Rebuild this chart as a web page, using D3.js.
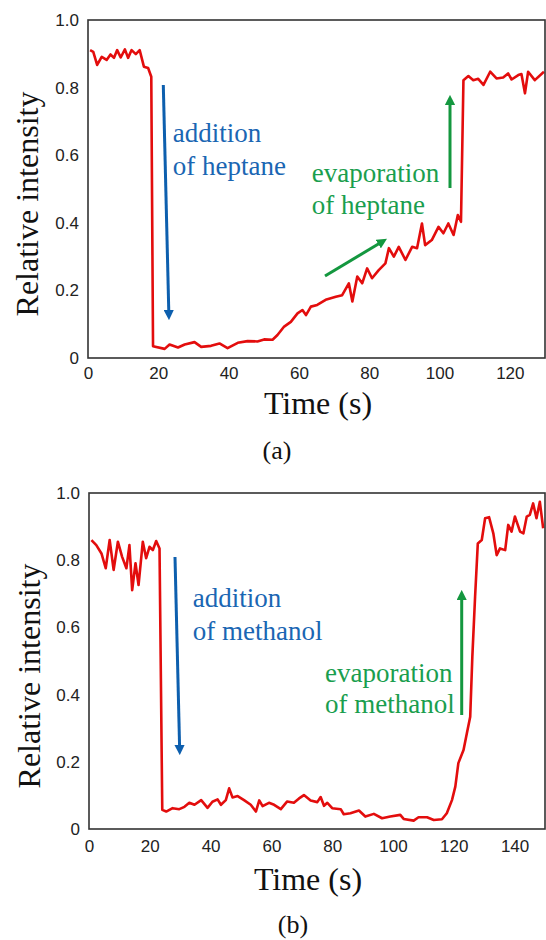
<!DOCTYPE html>
<html>
<head>
<meta charset="utf-8">
<script src="https://cdn.jsdelivr.net/npm/d3@7"></script>
<style>
  body { margin: 0; background: #fff; }
  svg { display: block; }
</style>
</head>
<body>
<div id="chart"></div>
<script>
// (a) heptane
const timeA = [0.6, 1.5, 2.6, 3.9, 5.3, 6.4, 7.4, 8.3, 9.3, 10.5, 11.4, 12.4, 13.6, 14.7, 15.9, 17.1, 18, 18.5,
  21.8, 23.2, 25.6, 27.5, 30.3, 32.2, 35, 37.4, 39.7, 42.6, 45.4, 48.2, 50.1, 52.5, 53.9, 55.8, 57.7, 59.6,
  61, 62, 63.4, 65.2, 67.6, 70.5, 72.3, 74.2, 75.2, 76.6, 78, 79.4, 80.8, 82.7, 84.6, 85.6, 87, 88.4, 90.3,
  92.2, 93.6, 95, 95.9, 97.8, 99.7, 101.1, 102.5, 104, 105.2, 106.1, 106.8, 108.2, 109.6, 111, 112.5, 114.4,
  116.2, 118.1, 119.5, 120.5, 122.4, 123.3, 124.3, 125.2, 127.1, 129.7];
const valueA = [0.911, 0.906, 0.867, 0.891, 0.882, 0.898, 0.888, 0.911, 0.889, 0.913, 0.888, 0.911, 0.899, 0.911, 0.862, 0.858, 0.832, 0.035,
  0.027, 0.04, 0.031, 0.04, 0.047, 0.033, 0.036, 0.043, 0.029, 0.045, 0.05, 0.049, 0.055, 0.054, 0.068, 0.093, 0.107, 0.132,
  0.142, 0.127, 0.152, 0.157, 0.172, 0.181, 0.186, 0.221, 0.167, 0.241, 0.221, 0.265, 0.236, 0.26, 0.28, 0.325, 0.3, 0.329, 0.29,
  0.329, 0.325, 0.398, 0.334, 0.349, 0.388, 0.369, 0.398, 0.364, 0.423, 0.403, 0.822, 0.834, 0.822, 0.826, 0.808, 0.847,
  0.827, 0.83, 0.842, 0.824, 0.837, 0.84, 0.783, 0.847, 0.822, 0.847];

// (b) methanol
const timeB = [0.8, 2.4, 4.1, 5.5, 6.8, 8.1, 9.5, 10.9, 12.3, 13.3, 14.2, 15.3, 16.3, 17.7, 18.8, 19.9, 21, 22.1, 23.2, 24.1,
  25.4, 27.5, 29.7, 31.4, 33, 34.7, 36.9, 39, 40.6, 42.3, 43.4, 45, 46.1, 47.2, 48.9, 51, 53.2, 54.9, 56, 57.1, 59.2,
  60.9, 63.1, 65.2, 67.4, 69.1, 70.7, 72.9, 75.1, 76.2, 77.3, 78.4, 80, 82.8, 83.8, 86, 88.8, 90.9, 93.7, 96.4, 99.1,
  102.4, 103.5, 106.8, 108.4, 111.2, 113.4, 116.1, 117.7, 119.4, 120.5, 121.5, 123.2, 124.3, 125.4, 126.1, 127, 127.9,
  129.2, 130.3, 131.6, 133, 134.1, 135.2, 136.9, 137.9, 139, 140.1, 141.8, 142.9, 144, 145, 146.1, 147.2, 148.3, 149.4];
const valueB = [0.86, 0.845, 0.82, 0.776, 0.86, 0.771, 0.855, 0.81, 0.776, 0.845, 0.711, 0.791, 0.726, 0.855, 0.806, 0.84, 0.83, 0.857, 0.835, 0.057,
  0.052, 0.062, 0.059, 0.066, 0.078, 0.072, 0.086, 0.063, 0.081, 0.088, 0.072, 0.086, 0.121, 0.094, 0.098, 0.086, 0.072, 0.052, 0.085, 0.068, 0.078,
  0.072, 0.059, 0.082, 0.078, 0.091, 0.101, 0.085, 0.08, 0.095, 0.069, 0.078, 0.062, 0.059, 0.044, 0.047, 0.055, 0.037, 0.045, 0.032, 0.037,
  0.042, 0.03, 0.025, 0.035, 0.035, 0.027, 0.029, 0.047, 0.086, 0.126, 0.196, 0.235, 0.285, 0.334, 0.513, 0.691, 0.85,
  0.86, 0.925, 0.928, 0.88, 0.815, 0.835, 0.83, 0.905, 0.885, 0.93, 0.885, 0.88, 0.93, 0.935, 0.969, 0.925, 0.974, 0.895];

const yTicks = [0, 0.2, 0.4, 0.6, 0.8, 1.0];
const xTicksA = [0, 20, 40, 60, 80, 100, 120];
const xTicksB = [0, 20, 40, 60, 80, 100, 120, 140];

const W = 546, H = 940;
const svg = d3.select("#chart").append("svg")
  .attr("width", W)
  .attr("height", H);

const serif = "'Liberation Serif', 'Times New Roman', serif";
const sans = "'Liberation Sans', Arial, sans-serif";
const blue = "#1a66b3", blueArrow = "#0d5fae";
const green = "#1a9e4e", greenArrow = "#14973f";

const defs = svg.append("defs");
[["head-blue", blueArrow], ["head-green", greenArrow]].forEach(([id, c]) => {
  defs.append("marker")
    .attr("id", id)
    .attr("viewBox", "0 0 10 10")
    .attr("refX", 2).attr("refY", 5)
    .attr("markerWidth", 3.4).attr("markerHeight", 3.4)
    .attr("orient", "auto")
    .append("path")
    .attr("d", "M0,0 L10,5 L0,10 Z")
    .attr("fill", c);
});

const drawPanel = (cfg) => {
  const x = d3.scaleLinear().domain([0, cfg.xMax]).range([cfg.left, cfg.right]);
  const y = d3.scaleLinear().domain([0, 1]).range([cfg.bottom, cfg.top]);
  const g = svg.append("g");

  g.append("g")
    .attr("transform", `translate(${cfg.left},0)`)
    .call(d3.axisLeft(y).tickValues(yTicks).tickSize(0).tickPadding(9)
      .tickFormat(d => d === 0 ? "0" : d3.format(".1f")(d)))
    .call(a => a.select(".domain").remove())
    .selectAll("text")
    .style("font-family", sans).style("font-size", "17px").attr("fill", "#222");

  g.append("g")
    .attr("transform", `translate(0,${cfg.bottom})`)
    .call(d3.axisBottom(x).tickValues(cfg.xTicks).tickSize(0).tickPadding(cfg.xPad))
    .call(a => a.select(".domain").remove())
    .selectAll("text")
    .style("font-family", sans).style("font-size", "17px").attr("fill", "#222");

  const line = d3.line().x(d => x(d[0])).y(d => y(d[1]));
  g.append("path")
    .datum(d3.zip(cfg.times, cfg.values))
    .attr("d", line)
    .attr("fill", "none")
    .attr("stroke", "#e30d0d")
    .attr("stroke-width", 2.6)
    .attr("stroke-linejoin", "round");

  g.append("rect")
    .attr("x", cfg.left).attr("y", cfg.top)
    .attr("width", cfg.right - cfg.left).attr("height", cfg.bottom - cfg.top)
    .attr("fill", "none").attr("stroke", "#333").attr("stroke-width", 1.6);

  g.append("text")
    .attr("x", cfg.titleX).attr("y", cfg.titleY)
    .attr("text-anchor", "middle")
    .style("font-family", serif).style("font-size", "32px").attr("fill", "#111")
    .text("Time (s)");

  g.append("text")
    .attr("transform", `translate(${cfg.yLabelX},${cfg.yLabelY}) rotate(-90)`)
    .attr("text-anchor", "middle")
    .style("font-family", serif).style("font-size", "32px").attr("fill", "#111")
    .text("Relative intensity");

  g.append("text")
    .attr("x", cfg.capX).attr("y", cfg.capY)
    .attr("text-anchor", "middle")
    .style("font-family", serif).style("font-size", "26px").attr("fill", "#111")
    .text(cfg.caption);

  cfg.arrows.forEach(a => {
    g.append("line")
      .attr("x1", a[0]).attr("y1", a[1]).attr("x2", a[2]).attr("y2", a[3])
      .attr("stroke", a[4] === "blue" ? blueArrow : greenArrow)
      .attr("stroke-width", 3)
      .attr("marker-end", `url(#head-${a[4]})`);
  });

  cfg.notes.forEach(n => {
    g.append("text")
      .attr("x", n[0]).attr("y", n[1])
      .style("font-family", serif).style("font-size", "27px")
      .attr("fill", n[3] === "blue" ? blue : green)
      .text(n[2]);
  });
};

drawPanel({
  times: timeA, values: valueA, xMax: 130, xTicks: xTicksA, xPad: 9,
  left: 88, right: 545, top: 20, bottom: 358,
  titleX: 318, titleY: 414, yLabelX: 38, yLabelY: 204,
  capX: 277, capY: 459, caption: "(a)",
  arrows: [[163.3, 85, 168.8, 312, "blue"], [450, 188, 450, 103, "green"], [325, 276, 380, 243, "green"]],
  notes: [[172.7, 141.7, "addition", "blue"], [172.7, 175, "of heptane", "blue"],
          [311.7, 181.7, "evaporation", "green"], [311.7, 214, "of heptane", "green"]]
});

drawPanel({
  times: timeB, values: valueB, xMax: 150, xTicks: xTicksB, xPad: 11,
  left: 89, right: 545, top: 493, bottom: 829,
  titleX: 308, titleY: 890, yLabelX: 40, yLabelY: 676,
  capX: 293, capY: 933, caption: "(b)",
  arrows: [[175, 557, 179.6, 747, "blue"], [461.7, 715, 461.7, 598, "green"]],
  notes: [[192.7, 606.7, "addition", "blue"], [192.7, 640, "of methanol", "blue"],
          [325, 681.7, "evaporation", "green"], [325, 713.3, "of methanol", "green"]]
});
</script>
</body>
</html>
